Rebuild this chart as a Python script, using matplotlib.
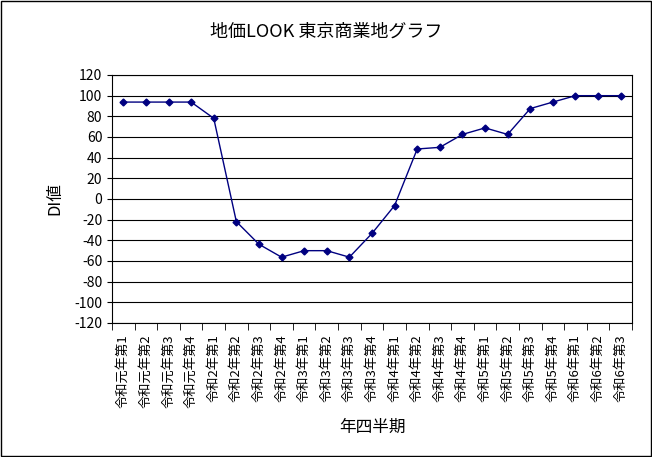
import matplotlib.pyplot as plt
import numpy as np

plt.rcParams['font.family'] = 'Noto Sans CJK JP'
plt.rcParams['axes.unicode_minus'] = False

labels = ['令和元年第1', '令和元年第2', '令和元年第3', '令和元年第4',
          '令和2年第1', '令和2年第2', '令和2年第3', '令和2年第4',
          '令和3年第1', '令和3年第2', '令和3年第3', '令和3年第4',
          '令和4年第1', '令和4年第2', '令和4年第3', '令和4年第4',
          '令和5年第1', '令和5年第2', '令和5年第3', '令和5年第4',
          '令和6年第1', '令和6年第2', '令和6年第3']
di = [93.8, 93.8, 93.8, 93.8, 78.1, -21.9, -43.8, -56.3,
      -50.0, -50.0, -56.3, -33.3, -6.3, 48.4, 50.0, 62.5,
      68.8, 62.5, 87.5, 93.8, 100.0, 100.0, 100.0]

fig = plt.figure(figsize=(6.52, 4.57), dpi=100)
fig.patch.set_facecolor('white')
ax = fig.add_axes([112/652, 1-323/457, 520/652, 248/457])

x = np.arange(len(labels))
ax.plot(x, di, color='#000080', marker='D', ms=3.5, lw=1)
ax.set_xlim(-0.5, len(labels) - 0.5)
ax.set_ylim(-120, 120)
ax.set_yticks(range(-120, 121, 20))
ax.yaxis.grid(True, color='black', lw=0.8)
ax.set_xticks(x)
ax.set_xticklabels(labels, rotation=90, fontsize=9.5)
ax.set_xticks(np.arange(-0.5, len(labels), 1), minor=True)
ax.tick_params(axis='x', which='major', length=0, pad=8)
ax.tick_params(axis='x', which='minor', length=5, direction='out')
ax.tick_params(axis='y', labelsize=10)
for s in ax.spines.values():
    s.set_linewidth(0.8)

ax.set_ylabel('DI値', fontsize=12, labelpad=8)
ax.set_xlabel('年四半期', fontsize=12, labelpad=8)
fig.suptitle('地価LOOK 東京商業地グラフ', y=0.95, fontsize=13)
fig.add_artist(plt.Rectangle((0.002, 0.002), 0.996, 0.996, fill=False,
                             transform=fig.transFigure, lw=1, color='black'))
fig.savefig('out.png', dpi=100)
